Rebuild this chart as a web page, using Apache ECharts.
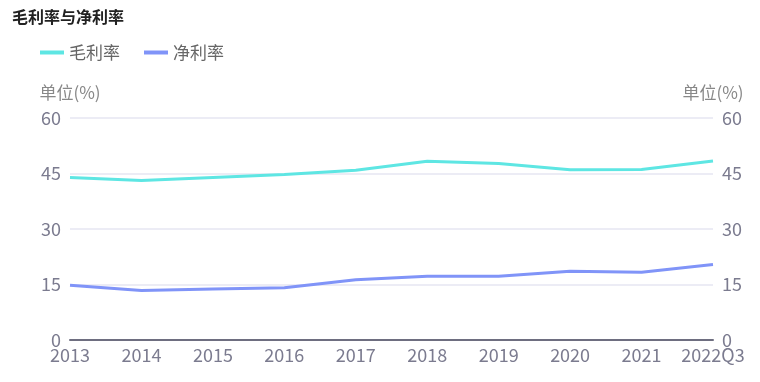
<!DOCTYPE html>
<html><head><meta charset="utf-8">
<script src="https://cdn.jsdelivr.net/npm/echarts@6/dist/echarts.min.js"></script>
<style>html,body{margin:0;padding:0;background:#fff}#c{width:760px;height:382px}</style>
</head><body><div id="c"></div>
<script>
const categories = ['2013','2014','2015','2016','2017','2018','2019','2020','2021','2022Q3'];
const grossMargin = [43.9, 43.1, 43.9, 44.7, 45.9, 48.3, 47.7, 46.0, 46.1, 48.4];
const netMargin = [14.8, 13.4, 13.8, 14.1, 16.3, 17.2, 17.2, 18.6, 18.3, 20.4];
const seriesNames = ['毛利率', '净利率'];
const titleText = '毛利率与净利率';
const unitName = '单位(%)';

const chart = echarts.init(document.getElementById('c'), null, {renderer: 'canvas'});
const font = '"Microsoft YaHei","Noto Sans CJK SC",sans-serif';
const axisLabel = {color: '#7b7b8f', fontSize: 18, fontFamily: font};
chart.setOption({
  animation: false,
  title: {text: titleText, left: 7, top: 4, textStyle: {fontSize: 16, fontWeight: 'bold', color: '#222', fontFamily: font}},
  legend: {
    data: seriesNames, left: 35, top: 39, itemWidth: 24, itemHeight: 4, itemGap: 24,
    icon: 'rect',
    textStyle: {fontSize: 17, color: '#666', fontFamily: font}
  },
  color: ['#5ee6e3', '#8094f8'],
  grid: {left: 70, right: 47, top: 118, bottom: 42},
  xAxis: {
    type: 'category', data: categories, boundaryGap: false,
    axisLine: {lineStyle: {color: '#6e6e80', width: 2}},
    axisTick: {show: false},
    axisLabel: Object.assign({margin: 6, interval: 0}, axisLabel)
  },
  yAxis: [
    {type: 'value', min: 0, max: 60, interval: 15, name: unitName, position: 'left',
     nameTextStyle: {color: '#888', fontSize: 17, fontFamily: font, padding: [0, 0, 2, 0]},
     axisLine: {show: false}, axisTick: {show: false},
     axisLabel: Object.assign({margin: 9}, axisLabel),
     splitLine: {lineStyle: {color: '#ececf5', width: 2}}},
    {type: 'value', min: 0, max: 60, interval: 15, name: unitName, position: 'right',
     nameTextStyle: {color: '#888', fontSize: 17, fontFamily: font, padding: [0, 0, 2, 0]},
     axisLine: {show: false}, axisTick: {show: false},
     axisLabel: Object.assign({margin: 9}, axisLabel),
     splitLine: {show: false}}
  ],
  series: [
    {name: seriesNames[0], type: 'line', data: grossMargin, symbol: 'none', lineStyle: {width: 3}},
    {name: seriesNames[1], type: 'line', data: netMargin, symbol: 'none', lineStyle: {width: 3}}
  ]
});
</script></body></html>
